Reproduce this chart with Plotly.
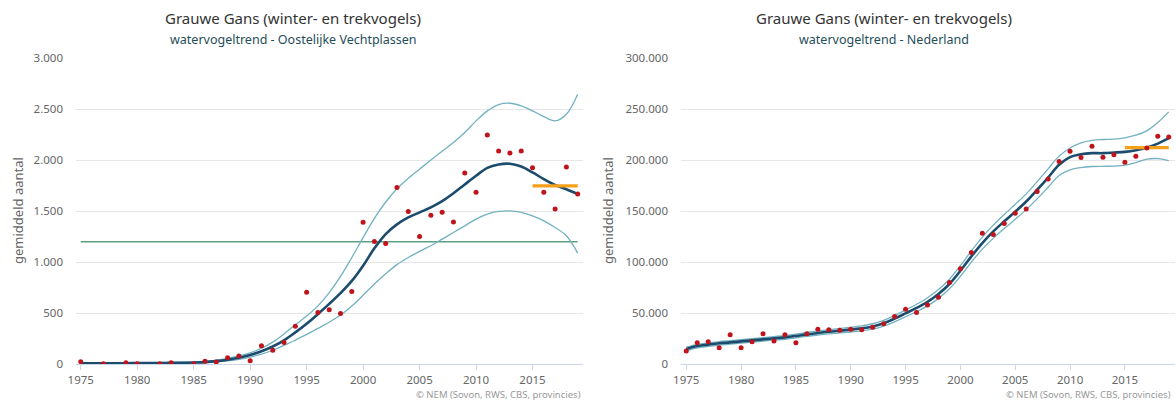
import plotly.graph_objects as go

# ---------------- data ----------------
years_trend = list(range(1975, 2020))

# Left: Oostelijke Vechtplassen
left_pt_years = [1975, 1977, 1979, 1980, 1982, 1983, 1985, 1986, 1987, 1988, 1989, 1990,
                 1991, 1992, 1993, 1994, 1995, 1996, 1997, 1998, 1999, 2000,
                 2001, 2002, 2003, 2004, 2005, 2006, 2007, 2008, 2009, 2010,
                 2011, 2012, 2013, 2014, 2015, 2016, 2017, 2018, 2019]
left_pt_counts = [23, 3, 13, 2, 3, 13, 2, 26, 20, 62, 79, 33,
                  180, 134, 210, 370, 703, 505, 533, 495, 712, 1390,
                  1203, 1182, 1733, 1497, 1252, 1460, 1490, 1393, 1874, 1686,
                  2247, 2090, 2070, 2090, 1925, 1686, 1520, 1933, 1668]
left_trend = [8, 8, 8, 8, 8, 9, 9, 10, 11, 12, 14,
              18, 28, 42, 62, 88, 125, 172, 232, 310, 395,
              490, 590, 695, 815, 965, 1135, 1275, 1370, 1438, 1488,
              1537, 1598, 1675, 1762, 1847, 1925, 1958, 1965, 1938, 1880,
              1815, 1757, 1715, 1667]
left_upper = [12, 12, 12, 12, 12, 13, 13, 14, 15, 17, 20,
              26, 38, 56, 80, 110, 155, 215, 295, 385, 470,
              570, 700, 860, 1045, 1240, 1430, 1590, 1720, 1822, 1912,
              2002, 2088, 2173, 2271, 2386, 2484, 2546, 2559, 2533, 2484,
              2428, 2386, 2451, 2647]
left_lower = [5, 5, 5, 5, 5, 6, 6, 7, 8, 9, 10,
              13, 20, 30, 46, 68, 97, 135, 182, 235, 290,
              350, 410, 480, 570, 675, 785, 885, 975, 1045, 1105,
              1160, 1225, 1291, 1356, 1422, 1471, 1497, 1503, 1487, 1454,
              1405, 1340, 1258, 1088]
left_ref_level = 1200
left_ref_years = [1975, 2019]
left_recent_mean = 1748
recent_years = [2015, 2019]

# Right: Nederland
right_pt_years = list(range(1975, 2020))
right_pt_counts = [12800, 20900, 21900, 16000, 28800, 16000, 21900, 29800, 22600, 28800,
                   20900, 29800, 34000, 33700, 33100, 34000, 33500, 36000, 39600, 46500,
                   53800, 50500, 57900, 65400, 80100, 93500, 109400, 128200, 127100, 137900,
                   148000, 152000, 169400, 181600, 198800, 208800, 202600, 213700, 202900, 205300,
                   198000, 203800, 212000, 223500, 222700]
right_trend = [14700, 17600, 19000, 20300, 21200, 22200, 23200, 24200, 25200, 26100, 27500,
               29100, 30400, 31700, 32700, 33700, 35000, 36900, 40000, 44500, 49700,
               55000, 61000, 68700, 78500, 91500, 105600, 118700, 130100, 140000, 149500,
               159500, 171000, 183000, 195500, 203000, 205900, 206900, 206900, 207500, 208200,
               209800, 212400, 216300, 221600]
right_upper = [16500, 19300, 20700, 22000, 22900, 23900, 24900, 25900, 26900, 27900, 29300,
               31000, 32400, 33800, 34900, 36000, 37400, 39500, 42800, 47600, 53000,
               58600, 65000, 73000, 83200, 96500, 111000, 124500, 136300, 146700, 156700,
               167000, 179000, 191500, 204000, 212000, 217000, 219500, 220300, 220600, 222000,
               224500, 228800, 236900, 247400]
right_lower = [13000, 15900, 17300, 18600, 19500, 20500, 21500, 22500, 23500, 24300, 25700,
               27200, 28400, 29600, 30500, 31400, 32600, 34300, 37200, 41400, 46400,
               51400, 57000, 64400, 73800, 86000, 100000, 112700, 123500, 133000, 142000,
               151500, 162000, 173500, 185000, 190500, 192800, 193800, 194000, 194200, 195100,
               197700, 201000, 201600, 199700]
right_recent_mean = 212400

x_ticks = [1975, 1980, 1985, 1990, 1995, 2000, 2005, 2010, 2015]
left_yticks = [0, 500, 1000, 1500, 2000, 2500, 3000]
left_yticktext = ["0", "500", "1.000", "1.500", "2.000", "2.500", "3.000"]
right_yticks = [0, 50000, 100000, 150000, 200000, 250000, 300000]
right_yticktext = ["0", "50.000", "100.000", "150.000", "200.000", "250.000", "300.000"]

title = "Grauwe Gans (winter- en trekvogels)"
left_subtitle = "watervogeltrend - Oostelijke Vechtplassen"
right_subtitle = "watervogeltrend - Nederland"
ytitle = "gemiddeld aantal"
credit = "© NEM (Sovon, RWS, CBS, provincies)"

# ---------------- styles ----------------
FONT = "Noto Sans"
C_TREND = "#1b4c6d"
C_BAND = "#72b1c0"
C_PT = "#c0141c"
C_REF = "#5d9f82"
C_ORANGE = "#f5a01a"
C_GRID = "#e6e6e6"
C_TICK = "#666666"

W, H = 1176, 401
fig = go.Figure()


def add_panel(xa, ya, pts_x, pts_y, trend, upper, lower, mean_val, ref=None):
    if ref is not None:
        fig.add_trace(go.Scatter(x=left_ref_years, y=[ref, ref], mode="lines",
                                 line=dict(color=C_REF, width=1.6), xaxis=xa, yaxis=ya,
                                 hoverinfo="skip"))
    for band in (upper, lower):
        fig.add_trace(go.Scatter(x=years_trend, y=band, mode="lines",
                                 line=dict(color=C_BAND, width=1.3, shape="spline", smoothing=1.0),
                                 xaxis=xa, yaxis=ya, hoverinfo="skip"))
    fig.add_trace(go.Scatter(x=years_trend, y=trend, mode="lines",
                             line=dict(color=C_TREND, width=2.6, shape="spline", smoothing=1.0),
                             xaxis=xa, yaxis=ya, hoverinfo="skip"))
    fig.add_trace(go.Scatter(x=recent_years, y=[mean_val, mean_val], mode="lines",
                             line=dict(color=C_ORANGE, width=3.2), xaxis=xa, yaxis=ya,
                             hoverinfo="skip"))
    fig.add_trace(go.Scatter(x=pts_x, y=pts_y, mode="markers",
                             marker=dict(color=C_PT, size=5), xaxis=xa, yaxis=ya,
                             hoverinfo="skip"))


add_panel("x", "y", left_pt_years, left_pt_counts, left_trend, left_upper, left_lower,
          left_recent_mean, ref=left_ref_level)
add_panel("x2", "y2", right_pt_years, right_pt_counts, right_trend, right_upper, right_lower,
          right_recent_mean)

ydom = [(H - 364) / H, (H - 58.3) / H]

xcommon = dict(tickmode="array", tickvals=x_ticks, showgrid=False, zeroline=False,
               showline=True, linecolor="#ccd6eb", linewidth=1, ticks="outside",
               ticklen=5, tickcolor="#ccd6eb", tickwidth=1, automargin=False,
               tickfont=dict(family=FONT, size=11.5, color=C_TICK), ticklabelstandoff=0)
ycommon = dict(tickmode="array", showgrid=True, gridcolor=C_GRID, gridwidth=1,
               zeroline=False, showline=False, ticks="", automargin=False,
               tickfont=dict(family=FONT, size=11.5, color=C_TICK), ticklabelstandoff=12)

fig.update_layout(
    width=W, height=H,
    margin=dict(l=0, r=0, t=0, b=0, pad=0, autoexpand=False),
    paper_bgcolor="white", plot_bgcolor="white",
    showlegend=False,
    hovermode=False,
    font=dict(family=FONT, color=C_TICK),
    xaxis=dict(domain=[76 / W, 583 / W], range=[1974.58, 2019.47], anchor="y", **xcommon),
    yaxis=dict(domain=ydom, range=[0, 3000], anchor="x", tickvals=left_yticks,
               ticktext=left_yticktext, **ycommon),
    xaxis2=dict(domain=[681 / W, 1175 / W], range=[1974.52, 2019.57], anchor="y2", **xcommon),
    yaxis2=dict(domain=ydom, range=[0, 300000], anchor="x2", tickvals=right_yticks,
                ticktext=right_yticktext, **ycommon),
)

annos = []
for cx, sub in ((293, left_subtitle), (884, right_subtitle)):
    annos.append(dict(x=cx / W, y=1 - 18 / H, xref="paper", yref="paper", text=title,
                      showarrow=False, xanchor="center", yanchor="middle",
                      font=dict(family=FONT, size=15, color="#333333")))
    annos.append(dict(x=cx / W, y=1 - 39 / H, xref="paper", yref="paper", text=sub,
                      showarrow=False, xanchor="center", yanchor="middle",
                      font=dict(family=FONT, size=12.5, color="#1f4e5a")))
for tx in (18, 608):
    annos.append(dict(x=tx / W, y=1 - 211 / H, xref="paper", yref="paper", text=ytitle,
                      showarrow=False, textangle=-90, xanchor="center", yanchor="middle",
                      font=dict(family=FONT, size=13, color=C_TICK)))
for rx in (583, 1173):
    annos.append(dict(x=rx / W, y=1 - 394 / H, xref="paper", yref="paper", text=credit,
                      showarrow=False, xanchor="right", yanchor="middle",
                      font=dict(family=FONT, size=9.5, color="#999999")))
fig.update_layout(annotations=annos)

fig.write_html("out.html", config={"displayModeBar": False},
               post_script="document.body.style.margin='0';document.body.style.padding='0';")
